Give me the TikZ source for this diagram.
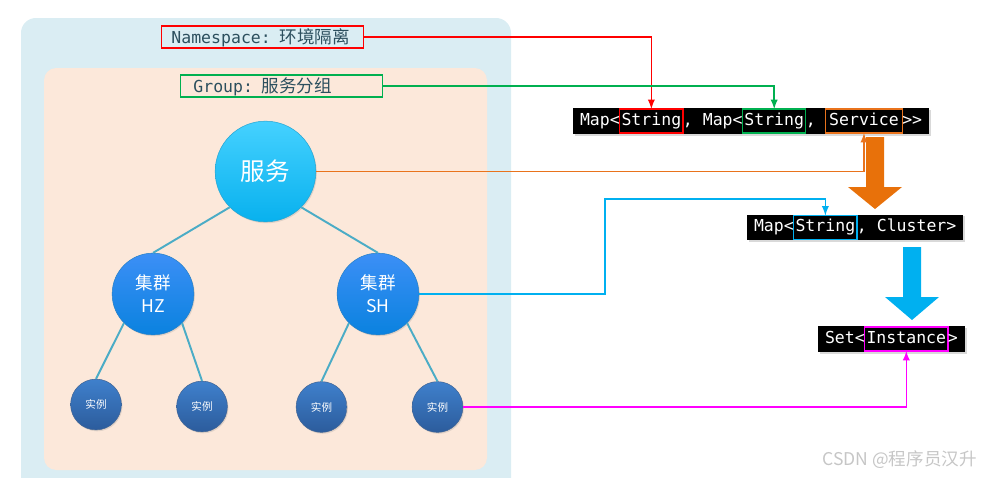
\documentclass[tikz,border=0pt]{standalone}
\usepackage{fontspec}
\setmonofont{DejaVu Sans Mono}
\newfontfamily\cjkFont{Noto Sans CJK SC}
\usetikzlibrary{arrows, positioning, fit, backgrounds, shadows}
\definecolor{nsBlue}{HTML}{DAEDF3}
\definecolor{grpPeach}{HTML}{FCE8DA}
\definecolor{labelInk}{HTML}{2C4F5E}
\definecolor{edgeTeal}{HTML}{4BACC6}
\definecolor{svcTop}{HTML}{45D1FF}
\definecolor{svcBottom}{HTML}{08B1EE}
\definecolor{clTop}{HTML}{3C8FF6}
\definecolor{clBottom}{HTML}{0A82DF}
\definecolor{instTop}{HTML}{3F80CC}
\definecolor{instBottom}{HTML}{2C5C9C}
\definecolor{lnRed}{HTML}{FF0000}
\definecolor{lnGreen}{HTML}{00B050}
\definecolor{lnOrange}{HTML}{E9731C}
\definecolor{arrOrange}{HTML}{E8710A}
\definecolor{lnBlue}{HTML}{00B0F0}
\definecolor{lnMagenta}{HTML}{FF00FF}
\newcommand\codeFont{\ttfamily\fontsize{9.4pt}{11pt}\selectfont}
\newcommand\labelCjk{\cjkFont\fontsize{10pt}{12pt}\selectfont}

\begin{document}
\begin{tikzpicture}[x=0.02cm, y=-0.02cm, node distance=0pt,
    labelBox/.style={draw=#1, line width=0.8pt, minimum height=12.47pt, inner ysep=0pt, text height=9.4pt, text depth=2pt, align=left, text=labelInk},
    circShadow/.style={drop shadow={opacity=0.22, shadow xshift=0.6pt, shadow yshift=-0.8pt}},
    svcCircle/.style={circle, minimum size=57.3pt, inner sep=0pt, top color=svcTop, bottom color=svcBottom, draw=svcBottom!75!gray, line width=0.3pt, text=white, font=\cjkFont\fontsize{14pt}{16pt}\selectfont, circShadow},
    clCircle/.style={circle, minimum size=46.5pt, inner sep=0pt, top color=clTop, bottom color=clBottom, draw=clBottom!75!gray, line width=0.3pt, text=white, align=center, font=\cjkFont\fontsize{10pt}{13pt}\selectfont, circShadow},
    instCircle/.style={circle, minimum size=28.9pt, inner sep=0pt, top color=instTop, bottom color=instBottom, draw=instBottom!75!gray, line width=0.3pt, text=white, font=\cjkFont\fontsize{6pt}{7pt}\selectfont, circShadow},
    treeEdge/.style={draw=edgeTeal, line width=1.1pt},
    word/.style={inner xsep=0pt, inner ysep=0pt, outer sep=0pt, minimum height=13.6pt, text height=7pt, text depth=2pt, text=white, font=\codeFont},
    frameWord/.style={word, draw=#1, line width=0.8pt, inner xsep=1pt},
    codeBox/.style={fill=black, inner xsep=4pt, inner ysep=0.57pt, drop shadow={opacity=0.3, shadow xshift=1pt, shadow yshift=-1pt}},
    link/.style={draw=#1, line width=0.85pt, -latex}]
    \useasboundingbox (0,0) rectangle (986,477);
    % namespace and group areas
    \begin{scope}
        \clip (0,0) rectangle (986,477);
        \fill [nsBlue, rounded corners=8.5pt] (21,18) rectangle (511,500);
    \end{scope}
    \fill [grpPeach, rounded corners=7pt] (44,68) rectangle (487,470);

    \node [labelBox=lnRed, text width=103.7pt, inner xsep=5.67pt] (nsLabel) at (262.5,37) {{\codeFont Namespace: }{\labelCjk 环境隔离}};
    \node [labelBox=lnGreen, text width=100.3pt, inner xsep=7.37pt] (grpLabel) at (281.5,86) {{\codeFont Group: }{\labelCjk 服务分组}};

    % service -> clusters -> instances
    \node [svcCircle] (svc) at (265.5,171.5) {服务};
    \node [clCircle] (hz) at (153,294) {集群\\HZ};
    \node [clCircle] (sh) at (378,294) {集群\\SH};
    \foreach \n/\x/\y in {1/96/404.5, 2/202/406.5, 3/321.5/407, 4/437.5/407}{
        \node [instCircle] (i-\n) at (\x,\y) {实例};
    }
    \draw [treeEdge] (svc.south west) -- (hz.north);
    \draw [treeEdge] (svc.south east) -- (sh.north);
    \draw [treeEdge] (hz.south west) -- (i-1.north);
    \draw [treeEdge] (hz.south east) -- (i-2.north);
    \draw [treeEdge] (sh.south west) -- (i-3.north);
    \draw [treeEdge] (sh.south east) -- (i-4.north);

    % Map<String, Map<String, Service>>
    \node [word, anchor=west] (m1a) at (580,121) {Map<};
    \node [frameWord=lnRed, right=0pt of m1a] (nsKey) {String};
    \node [word, right=0pt of nsKey] (m1b) {, Map<};
    \node [frameWord=lnGreen, right=0pt of m1b] (grpKey) {String};
    \node [word, right=0pt of grpKey] (m1c) {,\phantom{x}};
    \node [frameWord=lnOrange, inner xsep=2pt, right=0pt of m1c] (svcVal) {Service};
    \node [word, right=0pt of svcVal] (m1d) {>>};
    % Map<String, Cluster>
    \node [word, anchor=west] (m2a) at (754,227.5) {Map<};
    \node [frameWord=lnBlue, right=0pt of m2a] (clKey) {String};
    \node [word, right=0pt of clKey] (m2b) {, Cluster>};
    % Set<Instance>
    \node [word, anchor=west] (m3a) at (825,339) {Set<};
    \node [frameWord=lnMagenta, right=0pt of m3a] (instVal) {Instance};
    \node [word, right=0pt of instVal] (m3b) {>};
    \begin{scope}[on background layer]
        \node [codeBox, fit=(m1a)(m1d)] (map1) {};
        \node [codeBox, fit=(m2a)(m2b)] (map2) {};
        \node [codeBox, fit=(m3a)(m3b)] (set3) {};
    \end{scope}

    % big arrows between the maps
    \fill [arrOrange] (866,137) -- (884,137) -- (884,187) -- (902,187) -- (875,209) -- (848,187) -- (866,187) -- cycle;
    \fill [lnBlue] (903,247) -- (921,247) -- (921,297) -- (939,297) -- (912,320) -- (885,297) -- (903,297) -- cycle;

    % links
    \draw [link=lnRed] (nsLabel.east) -| (nsKey.north);
    \draw [link=lnGreen] (grpLabel.east) -| (grpKey.north);
    \draw [link=lnOrange] (svc.east) -| (svcVal.south);
    \coordinate (shBend) at (605,199);
    \draw [link=lnBlue] (sh.east) -| (shBend) -| (clKey.north);
    \draw [link=lnMagenta] (i-4.east) -| (instVal.south);

    \node [anchor=east, text=gray!45, font=\cjkFont\fontsize{10pt}{12pt}\selectfont] (mark) at (983,460) {CSDN @程序员汉升};
\end{tikzpicture}
\end{document}
